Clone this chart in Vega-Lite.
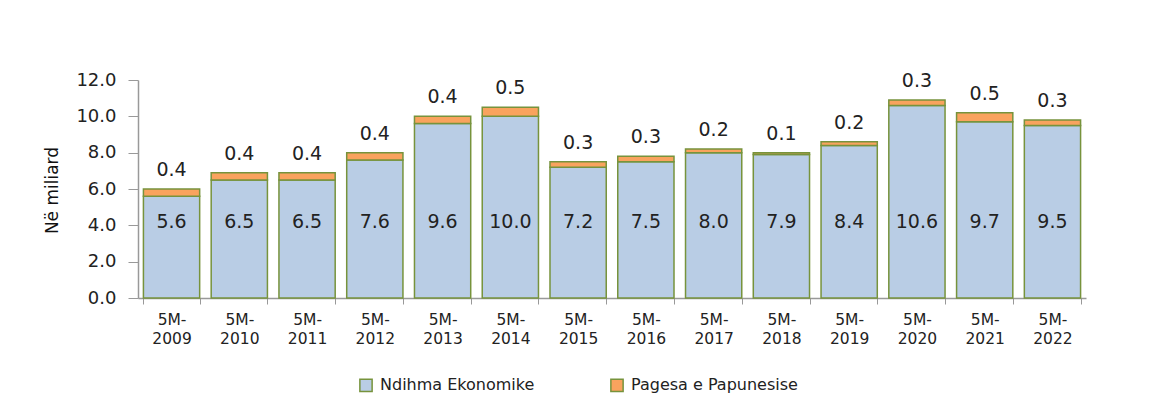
{
  "$schema": "https://vega.github.io/schema/vega-lite/v6.json",
  "autosize": {"type": "none"},
  "width": 948,
  "height": 218,
  "padding": {"left": 138, "top": 80, "right": 64, "bottom": 120},
  "background": "white",
  "config": {
    "view": {"stroke": null},
    "font": "DejaVu Sans",
    "text": {"font": "DejaVu Sans", "color": "#222222"},
    "axisY": {
      "labelOverlap": false,
      "title": "Në miliard",
      "titleFont": "DejaVu Sans",
      "titleFontSize": 17,
      "titleFontWeight": "normal",
      "titleColor": "#111111",
      "titleAngle": -90,
      "titleX": -86,
      "titleY": 110,
      "titleAlign": "center",
      "titleBaseline": "middle",
      "format": ".1f",
      "labelFont": "DejaVu Sans",
      "labelFontSize": 18,
      "labelColor": "#222222",
      "labelPadding": 12,
      "tickSize": 10,
      "tickColor": "#999999",
      "domainColor": "#999999",
      "domainWidth": 1.5,
      "grid": false
    }
  },
  "data": {
    "values": [
      {"period": "5M-2009", "series": "Ndihma Ekonomike", "k": 1, "value": 5.6},
      {"period": "5M-2009", "series": "Pagesa e Papunesise", "k": 2, "value": 0.4},
      {"period": "5M-2010", "series": "Ndihma Ekonomike", "k": 1, "value": 6.5},
      {"period": "5M-2010", "series": "Pagesa e Papunesise", "k": 2, "value": 0.4},
      {"period": "5M-2011", "series": "Ndihma Ekonomike", "k": 1, "value": 6.5},
      {"period": "5M-2011", "series": "Pagesa e Papunesise", "k": 2, "value": 0.4},
      {"period": "5M-2012", "series": "Ndihma Ekonomike", "k": 1, "value": 7.6},
      {"period": "5M-2012", "series": "Pagesa e Papunesise", "k": 2, "value": 0.4},
      {"period": "5M-2013", "series": "Ndihma Ekonomike", "k": 1, "value": 9.6},
      {"period": "5M-2013", "series": "Pagesa e Papunesise", "k": 2, "value": 0.4},
      {"period": "5M-2014", "series": "Ndihma Ekonomike", "k": 1, "value": 10.0},
      {"period": "5M-2014", "series": "Pagesa e Papunesise", "k": 2, "value": 0.5},
      {"period": "5M-2015", "series": "Ndihma Ekonomike", "k": 1, "value": 7.2},
      {"period": "5M-2015", "series": "Pagesa e Papunesise", "k": 2, "value": 0.3},
      {"period": "5M-2016", "series": "Ndihma Ekonomike", "k": 1, "value": 7.5},
      {"period": "5M-2016", "series": "Pagesa e Papunesise", "k": 2, "value": 0.3},
      {"period": "5M-2017", "series": "Ndihma Ekonomike", "k": 1, "value": 8.0},
      {"period": "5M-2017", "series": "Pagesa e Papunesise", "k": 2, "value": 0.2},
      {"period": "5M-2018", "series": "Ndihma Ekonomike", "k": 1, "value": 7.9},
      {"period": "5M-2018", "series": "Pagesa e Papunesise", "k": 2, "value": 0.1},
      {"period": "5M-2019", "series": "Ndihma Ekonomike", "k": 1, "value": 8.4},
      {"period": "5M-2019", "series": "Pagesa e Papunesise", "k": 2, "value": 0.2},
      {"period": "5M-2020", "series": "Ndihma Ekonomike", "k": 1, "value": 10.6},
      {"period": "5M-2020", "series": "Pagesa e Papunesise", "k": 2, "value": 0.3},
      {"period": "5M-2021", "series": "Ndihma Ekonomike", "k": 1, "value": 9.7},
      {"period": "5M-2021", "series": "Pagesa e Papunesise", "k": 2, "value": 0.5},
      {"period": "5M-2022", "series": "Ndihma Ekonomike", "k": 1, "value": 9.5},
      {"period": "5M-2022", "series": "Pagesa e Papunesise", "k": 2, "value": 0.3}
    ]
  },
  "encoding": {
    "x": {
      "field": "period",
      "type": "nominal",
      "sort": null,
      "scale": {"paddingInner": 0.17, "paddingOuter": 0.08},
      "axis": {
        "title": null,
        "labelAngle": 0,
        "labelExpr": "length(datum.label) > 3 ? ['5M-', substring(datum.label, 3)] : ''",
        "labelFont": "DejaVu Sans",
        "labelFontSize": 15.5,
        "labelColor": "#222222",
        "labelLineHeight": 19,
        "labelPadding": 8,
        "tickBand": "extent",
        "tickSize": 6,
        "tickColor": "#999999",
        "domainColor": "#999999",
        "domainWidth": 1.5
      }
    }
  },
  "layer": [
    {
      "mark": {"type": "bar", "stroke": "#77933C", "strokeWidth": 1.5},
      "encoding": {
        "y": {
          "field": "value",
          "type": "quantitative",
          "stack": "zero",
          "scale": {"domain": [0, 12], "nice": false},
          "axis": {"title": "Në miliard", "values": [0, 2, 4, 6, 8, 10, 12], "labelOverlap": false}
        },
        "color": {
          "field": "series",
          "type": "nominal",
          "scale": {
            "domain": ["Ndihma Ekonomike", "Pagesa e Papunesise"],
            "range": ["#B9CDE5", "#F9A35E"]
          },
          "legend": {
            "title": null,
            "orient": "none",
            "legendX": 220,
            "legendY": 297,
            "direction": "horizontal",
            "columns": 2,
            "columnPadding": 72,
            "symbolType": "square",
            "symbolSize": 150,
            "symbolStrokeColor": "#77933C",
            "symbolStrokeWidth": 1.5,
            "labelFont": "DejaVu Sans",
            "labelFontSize": 16,
            "labelColor": "#222222",
            "labelLimit": 300,
            "labelOffset": 6
          }
        },
        "order": {"field": "k", "type": "quantitative", "sort": "ascending"}
      }
    },
    {
      "transform": [{"filter": "datum.series == 'Ndihma Ekonomike'"}],
      "mark": {"type": "text", "baseline": "middle", "align": "center", "fontSize": 19},
      "encoding": {
        "y": {"datum": 4.2, "type": "quantitative", "axis": {"title": "Në miliard", "values": [0, 2, 4, 6, 8, 10, 12], "labelOverlap": false}},
        "text": {"field": "value", "type": "quantitative", "format": ".1f"}
      }
    },
    {
      "transform": [
        {"stack": "value", "groupby": ["period"], "sort": [{"field": "k", "order": "ascending"}], "as": ["v0", "v1"]},
        {"filter": "datum.series == 'Pagesa e Papunesise'"}
      ],
      "mark": {"type": "text", "baseline": "alphabetic", "align": "center", "fontSize": 19, "dy": -13},
      "encoding": {
        "y": {"field": "v1", "type": "quantitative", "axis": {"title": "Në miliard", "values": [0, 2, 4, 6, 8, 10, 12], "labelOverlap": false}},
        "text": {"field": "value", "type": "quantitative", "format": ".1f"}
      }
    }
  ]
}
